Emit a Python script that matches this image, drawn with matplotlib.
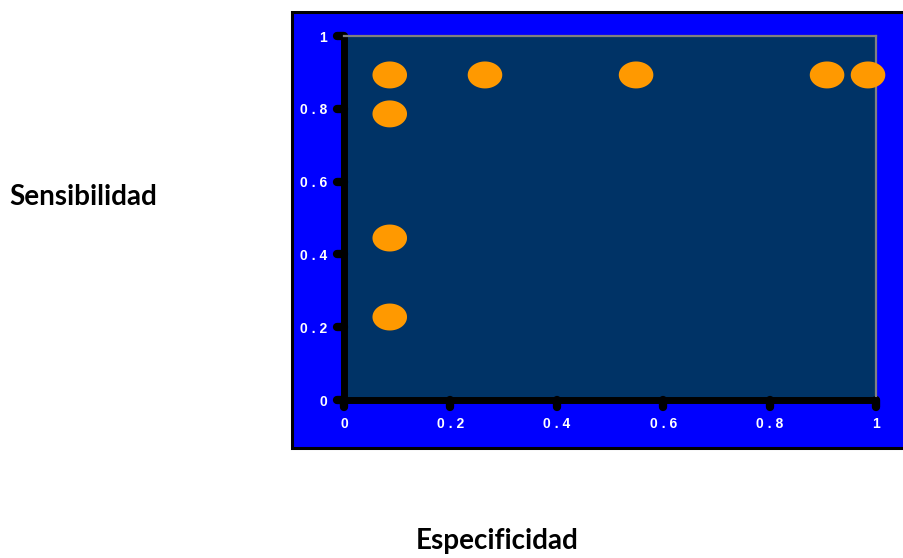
import numpy as np
import matplotlib.pyplot as plt
from matplotlib.patches import Rectangle
from matplotlib.path import Path
from matplotlib.markers import MarkerStyle, TICKDOWN, TICKLEFT

# data
especificidad = [0.086, 0.086, 0.086, 0.086, 0.265, 0.549, 0.908, 0.985]
sensibilidad = [0.893, 0.786, 0.445, 0.228, 0.893, 0.893, 0.893, 0.893]
ticks = [0, 0.2, 0.4, 0.6, 0.8, 1]
tick_labels = ['0', '0 . 2', '0 . 4', '0 . 6', '0 . 8', '1']

fig = plt.figure(figsize=(9.04, 5.58), dpi=100)
fig.patch.set_facecolor('white')

# blue frame behind the plot
fig.patches.append(Rectangle((292 / 904, 1 - 448 / 558), 0.68, (448 - 12) / 558,
                             transform=fig.transFigure, facecolor='#0000ff',
                             edgecolor='black', linewidth=2.2, zorder=-5))

ax = fig.add_axes([344 / 904, 1 - 400 / 558, 532 / 904, 364 / 558])
ax.set_zorder(2)
ax.set_facecolor('#003366')

# ellipse marker (wider than tall)
t = np.linspace(0, 2 * np.pi, 60)
ellipse = Path(np.column_stack([np.cos(t), 0.78 * np.sin(t)]))
ax.scatter(especificidad, sensibilidad, marker=ellipse, s=620,
           color='#ff9900', edgecolors='none', zorder=3, clip_on=False)

ax.set_xlim(0, 1)
ax.set_ylim(0, 1)
ax.set_xticks(ticks)
ax.set_yticks(ticks)
ax.set_xticklabels(tick_labels)
ax.set_yticklabels(tick_labels)

for s in ['left', 'bottom']:
    ax.spines[s].set_color('black')
    ax.spines[s].set_linewidth(5)
    ax.spines[s].set_capstyle('round')
for s in ['top', 'right']:
    ax.spines[s].set_color('#808080')
    ax.spines[s].set_linewidth(1.6)

ax.tick_params(direction='out', length=5, width=6, color='black',
               labelcolor='white', labelsize=10, pad=7)
# round tick ends like the original
for tk in ax.xaxis.get_major_ticks():
    tk.tick1line.set_marker(MarkerStyle(TICKDOWN, capstyle='round'))
for tk in ax.yaxis.get_major_ticks():
    tk.tick1line.set_marker(MarkerStyle(TICKLEFT, capstyle='round'))
for lab in ax.get_xticklabels() + ax.get_yticklabels():
    lab.set_fontweight('bold')
    lab.set_fontfamily('Liberation Sans')

fig.text(83 / 904, 1 - 197 / 558, 'Sensibilidad', ha='center', va='center',
         fontsize=20, fontweight='bold', family='Lato')
fig.text(497 / 904, 1 - 541 / 558, 'Especificidad', ha='center', va='center',
         fontsize=20, fontweight='bold', family='Lato')

fig.savefig('out.png', dpi=100)
